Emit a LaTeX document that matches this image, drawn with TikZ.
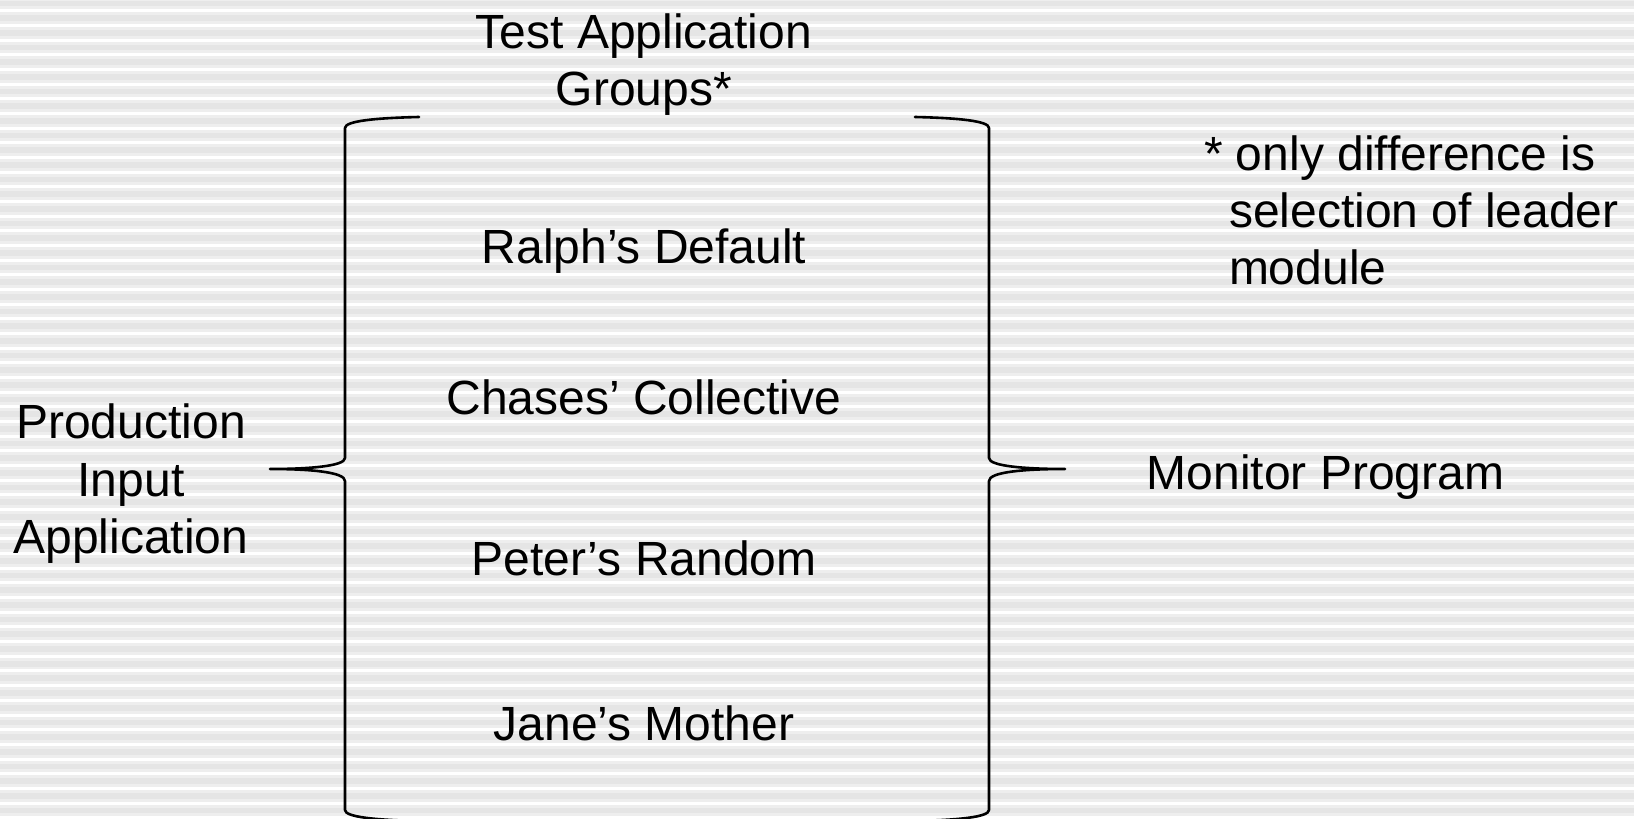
\documentclass[tikz,border=0pt]{standalone}
\usepackage{fontspec}
\setmainfont{Liberation Sans}
\definecolor{bglight}{HTML}{EEEEEE}
\definecolor{bgdark}{HTML}{E5E5E5}
\begin{document}
\begin{tikzpicture}[x=0.5pt,y=-0.5pt,
  lbl/.style={inner sep=0pt,outer sep=0pt,font=\fontsize{24}{28.65}\selectfont},
  clbl/.style={lbl,anchor=base},
  wlbl/.style={lbl,anchor=base west},
  bracepath/.style={line width=1.3pt,line join=round,line cap=round}]
\useasboundingbox (0,0) rectangle (1634,819);
% background stripes
\fill[bglight] (0,0) rectangle (1634,819);
\foreach \i in {-1,...,56}{
  \pgfmathsetmacro{\yy}{10.7+\i*14.673}
  \fill[white] (0,\yy-1.5) rectangle (1634,\yy+1.5);
  \fill[bgdark] (0,\yy+4.5) rectangle (1634,\yy+10.2);
}
% texts
\node[clbl] (t1) at (644,48) {Test Application};
\node[clbl] (t2) at (644,105) {Groups*};
\node[clbl] (ralph) at (644,263.6) {Ralph’s Default};
\node[clbl] (chase) at (644,414.7) {Chases’ Collective};
\node[clbl] (peter) at (644,575) {Peter’s Random};
\node[clbl] (jane) at (644,740) {Jane’s Mother};
\node[clbl] (p1) at (131,438.7) {Production};
\node[clbl] (p2) at (131,496) {Input};
\node[clbl] (p3) at (131,553) {Application};
\node[clbl] (mon) at (1325.5,489.7) {Monitor Program};
\node[wlbl] (n1) at (1204,170) {* only difference is};
\node[wlbl] (n2) at (1229,227) {selection of leader};
\node[wlbl] (n3) at (1229,284.5) {module};
% left brace
\coordinate (lt) at (419,117);
\coordinate (ltip) at (270,469);
\coordinate (lb) at (419,821);
\draw[bracepath] (lt) .. controls (375,118) and (345,121) .. (345,128)
  -- (345,458) .. controls (345,466) and (310,469) .. (ltip)
  .. controls (310,469) and (345,472) .. (345,481)
  -- (345,810) .. controls (345,817) and (375,820) .. (lb);
% right brace
\coordinate (rt) at (915,117);
\coordinate (rtip) at (1065,469);
\coordinate (rb) at (915,821);
\draw[bracepath] (rt) .. controls (959,118) and (989,121) .. (989,128)
  -- (989,458) .. controls (989,466) and (1024,469) .. (rtip)
  .. controls (1024,469) and (989,472) .. (989,481)
  -- (989,810) .. controls (989,817) and (959,820) .. (rb);
\end{tikzpicture}
\end{document}
